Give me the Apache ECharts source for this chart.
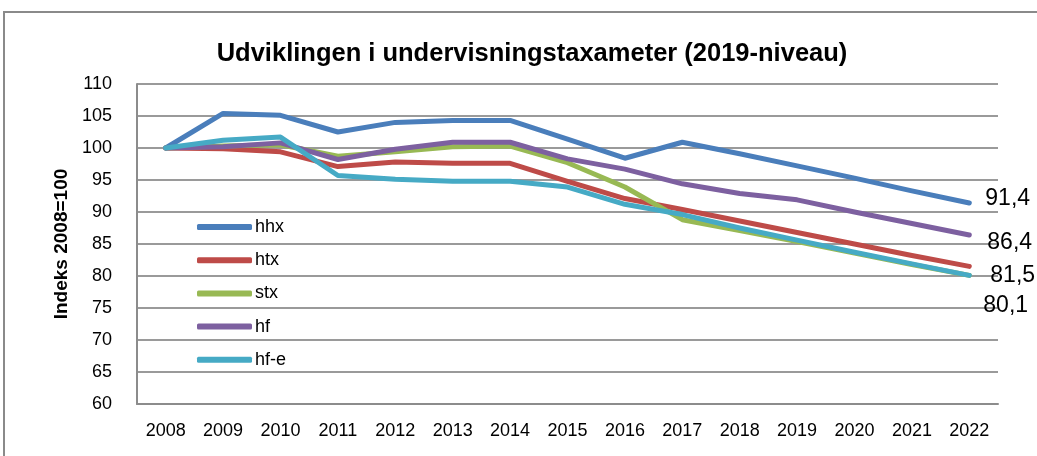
<!DOCTYPE html>
<html>
<head>
<meta charset="utf-8">
<script src="https://cdn.jsdelivr.net/npm/echarts@6/dist/echarts.min.js"></script>
<style>
html,body{margin:0;padding:0;background:#fff;}
#chart{width:1037px;height:456px;}
</style>
</head>
<body>
<div id="chart"></div>
<script>
var categories = ['2008','2009','2010','2011','2012','2013','2014','2015','2016','2017','2018','2019','2020','2021','2022'];
var hhx  = [100, 105.4, 105.1, 102.5, 104.0, 104.3, 104.3, 101.4, 98.4, 100.9, 99.1, 97.2, 95.3, 93.3, 91.4];
var htx  = [100, 99.9, 99.4, 97.1, 97.8, 97.6, 97.6, 94.8, 92.1, 90.4, 88.6, 86.8, 85.0, 83.2, 81.5];
var stx  = [100, 100.3, 100.5, 98.7, 99.4, 100.2, 100.3, 97.7, 93.9, 88.8, 87.1, 85.4, 83.6, 81.8, 80.1];
var hf   = [100, 100.2, 100.8, 98.2, 99.8, 100.9, 100.9, 98.3, 96.7, 94.4, 92.9, 91.9, 90.0, 88.2, 86.4];
var hfe  = [100, 101.2, 101.7, 95.7, 95.1, 94.8, 94.8, 93.9, 91.2, 89.6, 87.5, 85.6, 83.7, 81.9, 80.1];
var seriesNames = ['hhx','htx','stx','hf','hf-e'];
var yTicks = {min: 60, max: 110, interval: 5};

var colors = ['#4A7EBB','#BE4B48','#98B954','#7D60A0','#46AAC5'];
var font = 'Liberation Sans, Arial, sans-serif';
var endLabels = {
  'hhx':  {show:true, offset:[11,-4]},
  'htx':  {show:true, offset:[16,9]},
  'stx':  {show:false, offset:[0,0]},
  'hf':   {show:true, offset:[13,8]},
  'hf-e': {show:true, offset:[9,30]}
};
var allData = [hhx, htx, stx, hf, hfe];

var series = seriesNames.map(function(n, i){
  return {
    name: n, type: 'line', data: allData[i],
    symbol: 'none', smooth: false, animation: false,
    lineStyle: {width: 5, color: colors[i], cap: 'round', join: 'round'},
    itemStyle: {color: colors[i]},
    label: {show: false},
    endLabel: {
      show: endLabels[n].show, distance: 5, offset: endLabels[n].offset,
      formatter: function(p){ return String(p.value).replace('.', ','); },
      color: '#000', fontSize: 23, fontFamily: font
    }
  };
});

var chart = echarts.init(document.getElementById('chart'), null, {renderer: 'canvas'});
chart.setOption({
  backgroundColor: '#fff',
  animation: false,
  color: colors,
  title: {
    text: 'Udviklingen i undervisningstaxameter (2019-niveau)',
    left: 527, top: 36, textAlign: 'center',
    textStyle: {fontFamily: font, fontWeight: 'bold', fontSize: 25.5, color: '#000'}
  },
  graphic: [{
    type: 'rect', shape: {x: 4, y: 12, width: 1060, height: 470},
    style: {fill: 'none', stroke: '#8a8a8a', lineWidth: 2}, silent: true, z: -1
  }],
  legend: {
    orient: 'vertical', left: 192, top: 213,
    icon: 'roundRect', itemWidth: 55, itemHeight: 6, itemGap: 15.2,
    data: seriesNames,
    textStyle: {fontFamily: font, fontSize: 18, color: '#000', padding: [0,0,0,-2]}
  },
  grid: {left: 137, right: 39, top: 84, bottom: 52, containLabel: false},
  xAxis: {
    type: 'category', data: categories, boundaryGap: true,
    axisLine: {lineStyle: {color: '#8c8c8c', width: 2}},
    axisTick: {show: false},
    axisLabel: {color: '#000', fontFamily: font, fontSize: 18, margin: 18}
  },
  yAxis: {
    type: 'value', min: yTicks.min, max: yTicks.max, interval: yTicks.interval,
    name: 'Indeks 2008=100', nameLocation: 'middle', nameGap: 66,
    nameTextStyle: {fontFamily: font, fontWeight: 'bold', fontSize: 19, color: '#000'},
    axisLine: {show: true, lineStyle: {color: '#8c8c8c', width: 2}},
    axisTick: {show: false},
    axisLabel: {color: '#000', fontFamily: font, fontSize: 18, margin: 25},
    splitLine: {lineStyle: {color: '#9a9a9a', width: 2}}
  },
  series: series
});
</script>
</body>
</html>
